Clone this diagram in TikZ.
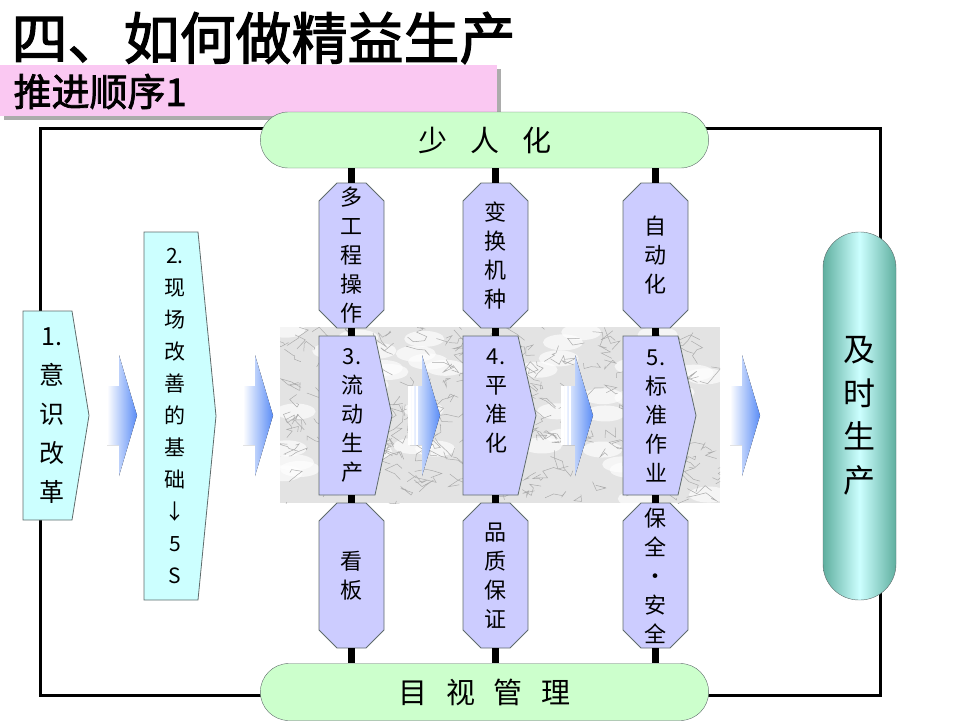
\documentclass[tikz,border=0pt]{standalone}
\usepackage{fontspec}
\setmainfont{Noto Sans CJK SC}[AutoFakeBold=2]
\usepackage{tikz}
\usetikzlibrary{positioning,shapes.misc,calc}

\definecolor{mint}{HTML}{CCFFCC}
\definecolor{aqua}{HTML}{CCFFFF}
\definecolor{lilac}{HTML}{CCCCFF}
\definecolor{pinkband}{HTML}{FAC8F2}
\definecolor{tealedge}{HTML}{5FAF9F}
\definecolor{flowblue}{HTML}{5B8DF6}
\definecolor{edge}{HTML}{5F6B6B}

\begin{document}
\begin{tikzpicture}[
  x=1pt,y=-1pt,
  bar/.style={draw=edge,fill=mint,rounded rectangle,minimum width=455pt,minimum height=56pt,font=\fontsize{29}{29}\selectfont},
  shell/.style={draw=edge,line width=0.8pt},
  stage/.style={inner sep=0pt,align=center},
  lean/.style={stage,minimum height=159pt,font=\fontsize{22}{29}\selectfont},
  oct/.style={inner sep=0pt,minimum width=65pt,minimum height=145pt,align=center,font=\fontsize{22}{29}\selectfont},
  flow/.style={left color=white,right color=flowblue,draw=none},
  link/.style={line width=7.5pt},
  frame/.style={line width=3pt}
]
\useasboundingbox (0,0) rectangle (960,720);

% heading
\fill[gray!65] (4,69) rectangle (501,120);
\fill[pinkband] (0,65) rectangle (497,116);
\node[anchor=west,font=\bfseries\fontsize{56}{56}\selectfont] (title) at (8,38) {四、如何做精益生产};
\node[anchor=west,font=\bfseries\fontsize{38}{38}\selectfont] (order) at (10,91.5) {推进顺序1};

\draw[frame] (40,128) rectangle (880,695);

% marble band
\begin{scope}
\clip (280,327) rectangle (720,503);
\fill[gray!22] (280,327) rectangle (720,503);
\pgfmathsetseed{11}
\foreach \i in {1,...,45}
  \fill[white,opacity=0.65] ({280+440*rnd},{327+176*rnd}) ellipse (20pt and 8pt);
\foreach \i in {1,...,260}
  \draw[gray!65,line width=0.5pt] ({280+440*rnd},{327+176*rnd}) -- ++({12*rand},{9*rand}) -- ++({12*rand},{9*rand}) -- ++({12*rand},{9*rand}) -- ++({12*rand},{9*rand});
\end{scope}

% flow arrows
\foreach \t in {137,273,440,593,760}
  \fill[flow] (\t-30,386) -- (\t-18,386) -- (\t-18,355) -- (\t,415.5) -- (\t-18,476) -- (\t-18,445) -- (\t-30,445) -- cycle;
\foreach \t in {440,593}
  \foreach \s in {31,27,23}
    \draw[white,line width=1.3pt] (\t-\s,386) -- (\t-\s,445);

% step outlines: left/top/bottom/corner/tip/fill
\foreach \l/\t/\b/\c/\p/\col in {23/311/520/72/89/aqua,144/232/600/198/216/aqua,319/336/495/375/392/lilac,463/336/495/518/536/lilac,623/336/495/678/696/lilac}
  \filldraw[shell,fill=\col] (\l,\t) -- (\c,\t) -- (\p,{(\t+\b)/2}) -- (\c,\b) -- (\l,\b) -- cycle;

% octagon outlines
\foreach \cx/\cy in {351.5/255.5,495.5/255.5,655.5/255.5,351.5/575.5,495.5/575.5,655.5/575.5}
  \filldraw[shell,fill=lilac] (\cx-32.5,\cy-54.5) -- (\cx-14.5,\cy-72.5) -- (\cx+14.5,\cy-72.5) -- (\cx+32.5,\cy-54.5)
    -- (\cx+32.5,\cy+54.5) -- (\cx+14.5,\cy+72.5) -- (\cx-14.5,\cy+72.5) -- (\cx-32.5,\cy+54.5) -- cycle;

\node[bar] (shaoren) at (484.5,140) {少\hspace{23pt}人\hspace{23pt}化};
\node[bar,minimum height=57pt] (mushi) at (484.5,692) {目\hspace{19pt}视\hspace{19pt}管\hspace{19pt}理};
\node[draw=edge,rounded corners=36pt,minimum width=73pt,minimum height=368pt,left color=tealedge,right color=tealedge,middle color=aqua,align=center,font=\fontsize{32}{43.5}\selectfont] (jit) at (859.5,416) {及\\时\\生\\产};

\node[stage,minimum height=209pt,font=\fontsize{25}{39}\selectfont] (yishi) at (52,415.5) {1.\\意\\识\\改\\革};
\node[stage,minimum height=368pt,font=\fontsize{21}{32}\selectfont] (xianchang) at (175,416) {2.\\现\\场\\改\\善\\的\\基\\础\\↓\\5\\S};

\node[lean] (liudong) at (352,415.5) {3.\\流\\动\\生\\产};
\node[lean] (pingzhun) at (496,415.5) {4.\\平\\准\\化\\\phantom{化}};
\node[lean] (biaozhun) at (656,415.5) {5.\\标\\准\\作\\业};

\node[oct] (duogong) at (351.5,255.5) {多\\工\\程\\操\\作};
\node[oct] (bianhuan) at (495.5,255.5) {变\\换\\机\\种};
\node[oct] (zidong) at (655.5,255.5) {自\\动\\化};
\node[oct] (kanban) at (351.5,575.5) {看\\板};
\node[oct] (pinzhi) at (495.5,575.5) {品\\质\\保\\证};
\node[oct] (baoquan) at (655.5,575.5) {保\\全\\·\\安\\全};

\foreach \oa/\st/\ob in {duogong/liudong/kanban,bianhuan/pingzhun/pinzhi,zidong/biaozhun/baoquan}{
  \draw[link] (\oa.north) -- (\oa.north |- shaoren.south);
  \draw[link] (\oa.south) -- (\oa.south |- \st.north);
  \draw[link] (\ob.north |- \st.south) -- (\ob.north);
  \draw[link] (\ob.south) -- (\ob.south |- mushi.north);
}
\end{tikzpicture}
\end{document}
